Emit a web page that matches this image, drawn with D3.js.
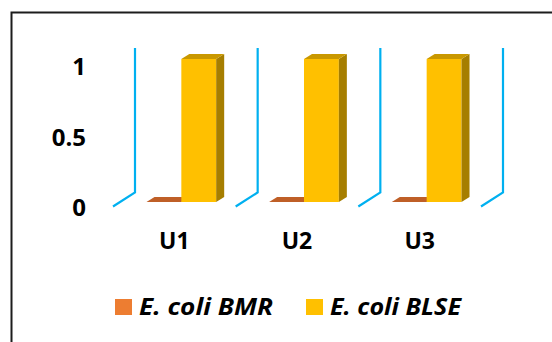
<!DOCTYPE html>
<html>
<head>
<meta charset="utf-8">
<script src="https://cdn.jsdelivr.net/npm/d3@7"></script>
<style>
  html, body { margin: 0; padding: 0; background: #fff; }
  svg { display: block; font-family: "Open Sans", Lato, sans-serif; }
</style>
</head>
<body>
<svg id="chart" width="552" height="342"></svg>
<script>
// Sites sampled and the share of isolates per resistance profile
const categories = ["U1", "U2", "U3"];
const seriesNames = ["E. coli BMR", "E. coli BLSE"];
const bmrValues = [0, 0, 0];
const blseValues = [1, 1, 1];
const yTicks = [0, 0.5, 1];

const seriesValues = [bmrValues, blseValues];
const palette = {
  "E. coli BMR":  { front: "#ed7d31", top: "#bf5f27", side: "#9c4d1f" },
  "E. coli BLSE": { front: "#ffc000", top: "#c99800", side: "#a67e00" }
};

const svg = d3.select("#chart");

// Outer frame
svg.append("rect")
  .attr("x", 11.5).attr("y", 12.5)
  .attr("width", 600).attr("height", 400)
  .attr("fill", "none").attr("stroke", "#1c1c1c").attr("stroke-width", 2);

// Oblique 3D projection: depth 0 = front of floor, depth 1 = back wall
const DX = 22, DY = -14;
const x = d3.scaleBand().domain(categories).range([113, 481]).paddingInner(0).paddingOuter(0);
const inner = d3.scaleBand().domain(seriesNames).range([0, x.bandwidth()])
  .paddingInner(0).paddingOuter(0.76);
const y = d3.scaleLinear().domain([0, 1]).range([206.5, 63.5]);
const P = (px, v, depth) => [px + DX * depth, y(v) + DY * depth];

const barFront = 0.318, barBack = 0.682;

// Wall dividers between categories
const dividers = [x.range()[0]].concat(categories.map(c => x(c) + x.bandwidth()));
const walls = svg.append("g").attr("class", "walls");
dividers.forEach(d0 => {
  const a = P(d0, 0, 0), b = P(d0, 0, 1), c = P(d0, 1.01, 1);
  walls.append("path")
    .attr("d", d3.line()([a, b, c]))
    .attr("fill", "none").attr("stroke", "#00b0f0").attr("stroke-width", 2.2)
    .attr("stroke-linejoin", "miter");
});

// Bars (front face, top, right side)
const bars = svg.append("g").attr("class", "bars");
categories.forEach((cat, i) => {
  seriesNames.forEach((s, j) => {
    const v = seriesValues[j][i];
    const x0 = x(cat) + inner(s), x1 = x0 + inner.bandwidth();
    const col = palette[s];
    const f00 = P(x0, 0, barFront), f10 = P(x1, 0, barFront);
    const f0v = P(x0, v, barFront), f1v = P(x1, v, barFront);
    const b1v = P(x1, v, barBack), b0v = P(x0, v, barBack), b10 = P(x1, 0, barBack);
    const g = bars.append("g");
    if (v > 0) {
      g.append("path").attr("d", d3.line()([f00, f10, f1v, f0v]) + "Z").attr("fill", col.front);
      g.append("path").attr("d", d3.line()([f10, b10, b1v, f1v]) + "Z").attr("fill", col.side);
    }
    g.append("path").attr("d", d3.line()([f0v, f1v, b1v, b0v]) + "Z").attr("fill", col.top);
  });
});

// Value axis labels
const yLabel = y.copy().range([208, 67]);
const yAxis = svg.append("g")
  .attr("transform", "translate(89,0)")
  .call(d3.axisLeft(yLabel).tickValues(yTicks).tickFormat(d3.format("~g")).tickSize(0).tickPadding(3));
yAxis.select(".domain").remove();
yAxis.selectAll("text")
  .attr("fill", "#000").attr("font-size", 24).attr("font-weight", 700)
  .attr("font-family", "'Open Sans', sans-serif");

// Category labels
const xAxis = svg.append("g")
  .attr("transform", `translate(0,${y(0)})`)
  .call(d3.axisBottom(x).tickSize(0).tickPadding(26));
xAxis.select(".domain").remove();
xAxis.selectAll("text")
  .attr("fill", "#000").attr("font-size", 23).attr("font-weight", 700)
  .attr("font-family", "'Open Sans', sans-serif");

// Legend
const legend = svg.append("g").attr("class", "legend");
const legendX = [115, 306];
const legendTextWidth = [134, 131];
seriesNames.forEach((s, j) => {
  const g = legend.append("g").attr("transform", `translate(${legendX[j]},299)`);
  g.append("rect").attr("width", 17).attr("height", 16).attr("fill", palette[s].front);
  g.append("text")
    .attr("x", 24).attr("y", 16)
    .attr("font-family", "'Open Sans', sans-serif")
    .attr("font-size", 23).attr("font-weight", 700).attr("font-style", "italic")
    .attr("textLength", legendTextWidth[j]).attr("lengthAdjust", "spacingAndGlyphs")
    .attr("fill", "#000")
    .text(s);
});
</script>
</body>
</html>
